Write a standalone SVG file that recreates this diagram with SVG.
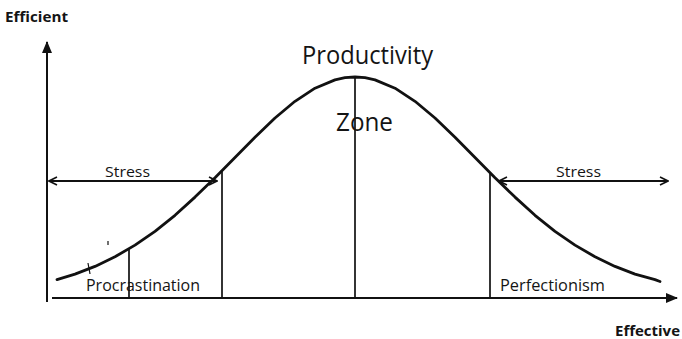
<svg xmlns="http://www.w3.org/2000/svg" width="682" height="339" viewBox="0 0 682 339">
<style>
.t{font-family:"Open Sans","Noto Sans","Liberation Sans",sans-serif;fill:#141414}
.b{font-weight:bold}
.ln{stroke:#111;fill:none}
</style>
<defs>
<marker id="tri" viewBox="0 0 12 10" refX="11" refY="5" markerWidth="12" markerHeight="10" markerUnits="userSpaceOnUse" orient="auto">
<path d="M0,0 L12,5 L0,10 Z" fill="#111"/>
</marker>
<marker id="chev" viewBox="0 0 10 10" refX="9" refY="5" markerWidth="10" markerHeight="10" markerUnits="userSpaceOnUse" orient="auto-start-reverse">
<path d="M1,1 L9,5 L1,9" fill="none" stroke="#111" stroke-width="1.6"/>
</marker>
</defs>
<rect width="682" height="339" fill="#fff"/>
<g id="axes">
<line class="ln" x1="47" y1="302" x2="47" y2="42" stroke-width="2" marker-end="url(#tri)"/>
<line class="ln" x1="52" y1="298" x2="677" y2="298" stroke-width="2" marker-end="url(#tri)"/>
</g>
<g id="curve">
<path class="ln" stroke-width="2.8" stroke-linejoin="round" stroke-linecap="round" d="M57,279.6 L75,274.1 L95,266.4 L115,256.8 L135,245.1 L155,231.3 L175,215.3 L195,197.1 L215,177.8 L235,157.6 L255,137.2 L275,118 L295,101.3 L315,88.2 L335,79.9 L345,77.7 L355,77 L365,77.7 L375,79.9 L395,88.2 L415,101.3 L435,118 L455,137.2 L475,157.6 L495,177.8 L515,197.1 L535,215.3 L555,231.3 L575,245.1 L595,256.8 L615,266.4 L635,274.1 L655,279.6 L660,281.5"/>
</g>
<g id="connectors">
<line class="ln" x1="129" y1="249" x2="129" y2="298" stroke-width="1.7"/>
<line class="ln" x1="222" y1="171" x2="222" y2="298" stroke-width="1.7"/>
<line class="ln" x1="355" y1="77" x2="355" y2="298" stroke-width="1.7"/>
<line class="ln" x1="490" y1="172.5" x2="490" y2="298" stroke-width="1.7"/>
<line class="ln" x1="49" y1="181" x2="217" y2="181" stroke-width="1.8" marker-start="url(#chev)" marker-end="url(#chev)"/>
<line class="ln" x1="499" y1="181" x2="668" y2="181" stroke-width="1.8" marker-start="url(#chev)" marker-end="url(#chev)"/>
<line class="ln" x1="88" y1="263" x2="90" y2="274" stroke-width="1.2"/>
<line class="ln" x1="108" y1="241" x2="108" y2="245" stroke-width="1.2"/>
</g>
<g id="labels">
<text class="t b" x="5" y="22" font-size="15" textLength="63" lengthAdjust="spacingAndGlyphs">Efficient</text>
<text class="t b" x="615" y="336" font-size="15" textLength="65" lengthAdjust="spacingAndGlyphs">Effective</text>
<text class="t" x="302" y="64" font-size="25" textLength="131" lengthAdjust="spacingAndGlyphs">Productivity</text>
<text class="t" x="336" y="131" font-size="25" textLength="57" lengthAdjust="spacingAndGlyphs">Zone</text>
<text class="t" x="105" y="177" font-size="15" textLength="45" lengthAdjust="spacingAndGlyphs">Stress</text>
<text class="t" x="556" y="177" font-size="15" textLength="45" lengthAdjust="spacingAndGlyphs">Stress</text>
<text class="t" x="86" y="291" font-size="17" textLength="114" lengthAdjust="spacingAndGlyphs">Procrastination</text>
<text class="t" x="500" y="291" font-size="17" textLength="105" lengthAdjust="spacingAndGlyphs">Perfectionism</text>
</g>
</svg>
